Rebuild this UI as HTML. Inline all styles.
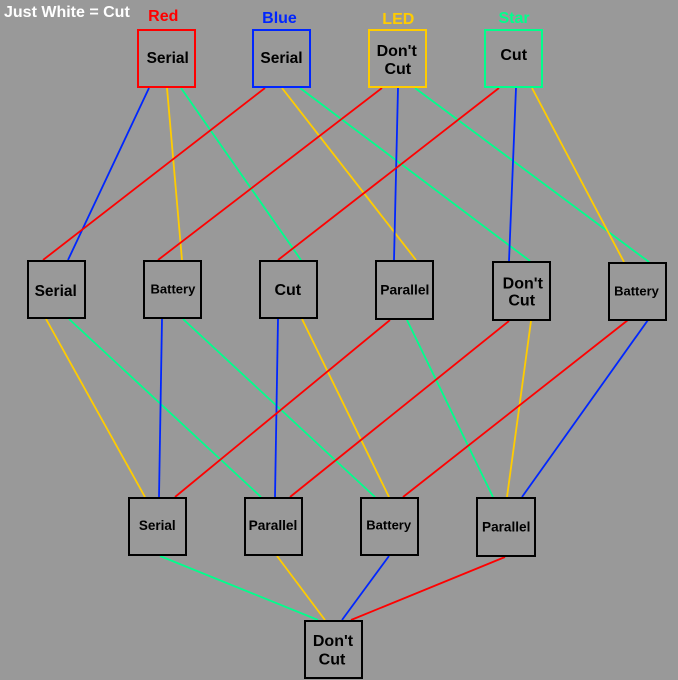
<!DOCTYPE html>
<html>
<head>
<meta charset="utf-8">
<style>
  html, body { margin:0; padding:0; background:#999999; }
  body { width:678px; height:680px; overflow:hidden; }
  svg { display:block; }
  text { font-family: "Liberation Sans", Arial, sans-serif; font-weight:bold; }
</style>
</head>
<body>
<svg width="678" height="680" viewBox="0 0 678 680" xmlns="http://www.w3.org/2000/svg">
  <rect x="0" y="0" width="678" height="680" fill="#999999"/>

  <!-- connectors -->
  <g stroke-width="1.8" fill="none" stroke-linecap="butt">
    <!-- top -> middle -->
    <line x1="149" y1="88" x2="68" y2="260" stroke="#0026ff"/>
    <line x1="167" y1="88" x2="182" y2="260" stroke="#ffcc00"/>
    <line x1="181" y1="88" x2="301" y2="260" stroke="#00ff8c"/>
    <line x1="265" y1="88" x2="43" y2="260" stroke="#ff0000"/>
    <line x1="282" y1="88" x2="416" y2="260" stroke="#ffcc00"/>
    <line x1="300" y1="88" x2="530" y2="261" stroke="#00ff8c"/>
    <line x1="382" y1="88" x2="158" y2="260" stroke="#ff0000"/>
    <line x1="398" y1="88" x2="394" y2="260" stroke="#0026ff"/>
    <line x1="415" y1="88" x2="649" y2="262" stroke="#00ff8c"/>
    <line x1="499" y1="88" x2="278" y2="260" stroke="#ff0000"/>
    <line x1="516" y1="88" x2="509" y2="261" stroke="#0026ff"/>
    <line x1="532" y1="88" x2="624" y2="262" stroke="#ffcc00"/>

    <!-- middle -> bottom -->
    <line x1="46" y1="319" x2="145" y2="497" stroke="#ffcc00"/>
    <line x1="69" y1="319" x2="261" y2="497" stroke="#00ff8c"/>
    <line x1="162" y1="319" x2="159" y2="497" stroke="#0026ff"/>
    <line x1="183" y1="319" x2="375" y2="497" stroke="#00ff8c"/>
    <line x1="278" y1="319" x2="275" y2="497" stroke="#0026ff"/>
    <line x1="302" y1="319" x2="389" y2="497" stroke="#ffcc00"/>
    <line x1="390" y1="320" x2="175" y2="497" stroke="#ff0000"/>
    <line x1="407" y1="320" x2="493" y2="497" stroke="#00ff8c"/>
    <line x1="509" y1="321" x2="290" y2="497" stroke="#ff0000"/>
    <line x1="531" y1="321" x2="507" y2="497" stroke="#ffcc00"/>
    <line x1="628" y1="320" x2="403" y2="497" stroke="#ff0000"/>
    <line x1="648" y1="320" x2="522" y2="497" stroke="#0026ff"/>

    <!-- bottom -> final -->
    <line x1="160" y1="556" x2="318" y2="620" stroke="#00ff8c"/>
    <line x1="277" y1="556" x2="325" y2="620" stroke="#ffcc00"/>
    <line x1="389" y1="556" x2="342" y2="620" stroke="#0026ff"/>
    <line x1="505" y1="557" x2="351" y2="620" stroke="#ff0000"/>
  </g>

  <!-- boxes -->
  <g fill="none" stroke-width="2" shape-rendering="crispEdges">
    <rect x="138" y="30" width="57" height="57" stroke="#ff0000"/>
    <rect x="253" y="30" width="57" height="57" stroke="#0026ff"/>
    <rect x="369" y="30" width="57" height="57" stroke="#ffcc00"/>
    <rect x="485" y="30" width="57" height="57" stroke="#00ff8c"/>

    <rect x="28" y="261" width="57" height="57" stroke="#000"/>
    <rect x="144" y="261" width="57" height="57" stroke="#000"/>
    <rect x="260" y="261" width="57" height="57" stroke="#000"/>
    <rect x="376" y="261" width="57" height="58" stroke="#000"/>
    <rect x="493" y="262" width="57" height="58" stroke="#000"/>
    <rect x="609" y="263" width="57" height="57" stroke="#000"/>

    <rect x="129" y="498" width="57" height="57" stroke="#000"/>
    <rect x="245" y="498" width="57" height="57" stroke="#000"/>
    <rect x="361" y="498" width="57" height="57" stroke="#000"/>
    <rect x="477" y="498" width="58" height="58" stroke="#000"/>

    <rect x="305" y="621" width="57" height="57" stroke="#000"/>
  </g>

  <!-- header labels -->
  <text x="4" y="17" font-size="16" fill="#ffffff">Just White = Cut</text>
  <text x="163.3" y="21" font-size="16" fill="#ff0000" text-anchor="middle">Red</text>
  <text x="279.5" y="23" font-size="16" fill="#0026ff" text-anchor="middle">Blue</text>
  <text x="398.3" y="24" font-size="16" fill="#ffcc00" text-anchor="middle">LED</text>
  <text x="514" y="23" font-size="16" fill="#00ff8c" text-anchor="middle">Star</text>

  <!-- top box text -->
  <g fill="#000" text-anchor="middle">
    <text x="167.7" y="63" font-size="15.5">Serial</text>
    <text x="281.5" y="63" font-size="15.5">Serial</text>
    <text x="396.7" y="56" font-size="16">Don't</text>
    <text x="397.8" y="74" font-size="16">Cut</text>
    <text x="513.7" y="60" font-size="16">Cut</text>

    <!-- middle row -->
    <text x="55.7" y="296" font-size="15.5">Serial</text>
    <text x="172.9" y="293.3" font-size="13">Battery</text>
    <text x="287.8" y="295" font-size="16">Cut</text>
    <text x="404.8" y="294.3" font-size="13.8">Parallel</text>
    <text x="522.8" y="288.3" font-size="16">Don't</text>
    <text x="521.7" y="305.7" font-size="16">Cut</text>
    <text x="636.5" y="295.3" font-size="13">Battery</text>

    <!-- bottom row -->
    <text x="157.3" y="530" font-size="13.5">Serial</text>
    <text x="273" y="530" font-size="13.7">Parallel</text>
    <text x="388.7" y="529.3" font-size="13">Battery</text>
    <text x="506.2" y="531.3" font-size="13.6">Parallel</text>

    <!-- final -->
    <text x="333" y="646" font-size="16">Don't</text>
    <text x="332" y="664.3" font-size="16">Cut</text>
  </g>
</svg>
</body>
</html>
